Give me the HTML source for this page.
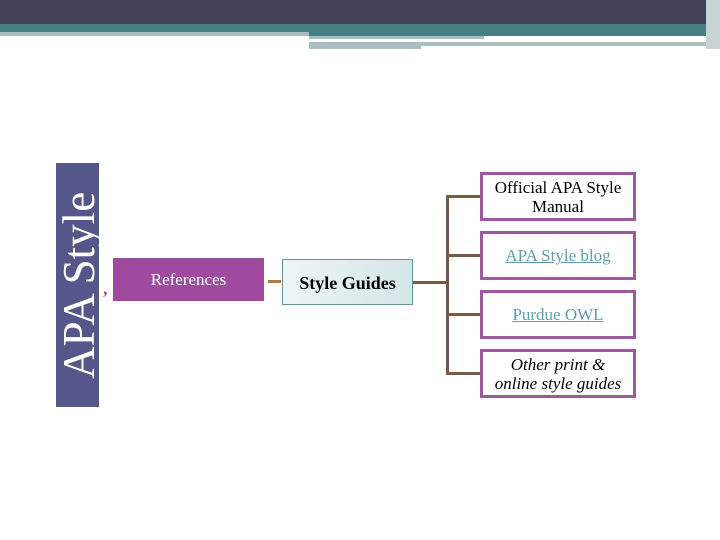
<!DOCTYPE html>
<html><head><style>
body{margin:0;width:720px;height:540px;background:#fff;position:relative;overflow:hidden;font-family:"Liberation Serif",serif}
div{position:absolute;box-sizing:border-box}
.b{border:3px solid #9b5a9b;background:#fff;text-align:center;font-size:17px;line-height:19px;display:flex;align-items:center;justify-content:center;left:480px;width:156px;height:49px}
.l{color:#5f9ea8;text-decoration:underline}
.ln{background:#7a5a44}
</style></head><body>
<div style="left:0;top:0;width:720px;height:24px;background:#42435a"></div>
<div style="left:0;top:24px;width:720px;height:8px;background:#467e84"></div>
<div style="left:0;top:32px;width:309px;height:4px;background:#a7bfc2"></div>
<div style="left:309px;top:32px;width:411px;height:4px;background:#467e84"></div>
<div style="left:309px;top:36px;width:175px;height:3px;background:#a7bfc2"></div>
<div style="left:309px;top:42px;width:112px;height:7px;background:#a7bfc2"></div>
<div style="left:421px;top:42px;width:290px;height:4px;background:#a7bfc2"></div>
<div style="left:706px;top:0;width:14px;height:49px;background:#c8d3d6"></div>

<div style="left:56px;top:163px;width:43px;height:244px;background:#55578a"></div>
<div style="left:58px;top:163px;width:43px;height:216px;writing-mode:vertical-rl;transform:rotate(180deg);color:#fff;font-size:45px;line-height:43px;text-align:left;white-space:nowrap">APA Style</div>
<div style="left:103px;top:278px;color:#9b4a9b;font-size:18px;font-weight:bold">,</div>
<div style="left:113px;top:258px;width:151px;height:43px;background:#9f4a9f;color:#fff;font-size:17px;text-align:center;line-height:43px">References</div>
<div class="ln" style="left:268px;top:280px;width:13px;height:3px;background:#b07a50"></div>
<div style="left:282px;top:259px;width:131px;height:46px;border:1px solid #6a9098;background:linear-gradient(90deg,#eef5f6,#d4e6e8);font-weight:bold;font-size:18px;text-align:center;line-height:46px">Style Guides</div>
<div class="ln" style="left:413px;top:281px;width:35px;height:3px"></div>
<div class="ln" style="left:446px;top:195px;width:3px;height:180px"></div>
<div class="ln" style="left:446px;top:195px;width:34px;height:3px"></div>
<div class="ln" style="left:446px;top:254px;width:34px;height:3px"></div>
<div class="ln" style="left:446px;top:313px;width:34px;height:3px"></div>
<div class="ln" style="left:446px;top:372px;width:34px;height:3px"></div>
<div class="b" style="top:172px">Official APA Style<br>Manual</div>
<div class="b" style="top:231px"><span class="l">APA Style blog</span></div>
<div class="b" style="top:290px"><span class="l">Purdue OWL</span></div>
<div class="b" style="top:349px;font-style:italic">Other print &amp;<br>online style guides</div>
</body></html>
